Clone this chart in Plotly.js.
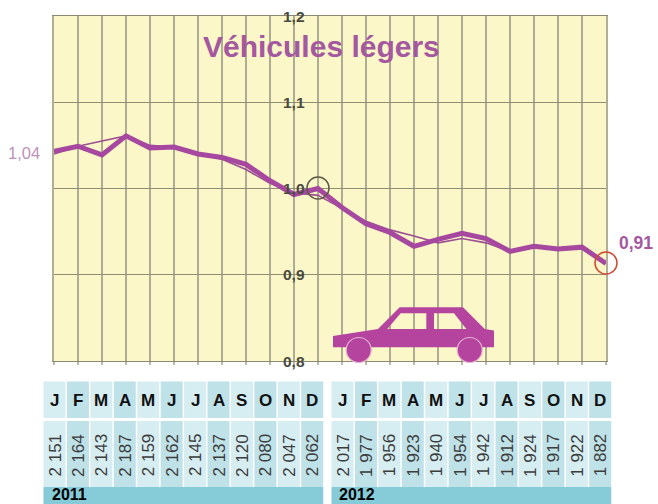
<!DOCTYPE html>
<html><head><meta charset="utf-8">
<script src="https://cdn.plot.ly/plotly-3.0.1.min.js"></script>
<style>html,body{margin:0;padding:0;background:#fff;overflow:hidden}</style>
</head><body><div id="chart" style="width:658px;height:504px"></div>
<script>
const monthsIdx = [0,1,2,3,4,5,6,7,8,9,10,11,12,13,14,15,16,17,18,19,20,21,22,23];
const indexValues = [1.043,1.049,1.039,1.061,1.047,1.048,1.040,1.036,1.028,1.009,0.993,1.000,0.978,0.959,0.949,0.933,0.941,0.948,0.942,0.927,0.933,0.930,0.932,0.913];
const trendValues = [1.040,1.049,1.055,1.061,1.050,1.048,1.040,1.034,1.022,1.006,0.995,0.992,0.977,0.962,0.952,0.945,0.937,0.942,0.937,0.927,0.933,0.930,0.930,0.913];
const monthLetters = ["J","F","M","A","M","J","J","A","S","O","N","D"];
const volumes2011 = ["2 151","2 164","2 143","2 187","2 159","2 162","2 145","2 137","2 120","2 080","2 047","2 062"];
const volumes2012 = ["2 017","1 977","1 956","1 923","1 940","1 954","1 942","1 912","1 924","1 917","1 922","1 882"];
const yTickValues = [1.2,1.1,1.0,0.9,0.8];
const yTickLabels = ["1,2","1,1","1,0","0,9","0,8"];
const titleText = "Véhicules légers";

const W=658,H=504;
const px=x=>x/W, py=y=>1-y/H;
const shapes=[],annotations=[];
const sans='"Liberation Sans", Arial, sans-serif';

function rect(x0,y0,x1,y1,color,layer){
  shapes.push({type:'rect',xref:'paper',yref:'paper',x0:px(x0),x1:px(x1),y0:py(y1),y1:py(y0),fillcolor:color,line:{width:0},layer:layer||'above'});
}
function label(x,y,text,size,color,bold,opts){
  annotations.push(Object.assign({xref:'paper',yref:'paper',x:px(x),y:py(y),text:bold?'<b>'+text+'</b>':text,showarrow:false,
    font:{family:sans,size:size,color:color},xanchor:'center',yanchor:'middle',borderpad:0},opts||{}));
}
rect(188,25,447,70,'#fbf7c8','between');
yTickValues.forEach((v,i)=>annotations.push({xref:'x',yref:'y',x:10,y:v,text:'<b>'+yTickLabels[i]+'</b>',showarrow:false,
  font:{family:sans,size:15.5,color:'#4a4a40'},xanchor:'center',yanchor:'middle'}));
label(321,46.5,titleText,30,'#a4589f',true);
label(24,153,'1,04',16.5,'#bd92bb',false);
label(618,243,'0,91',17.5,'#a4589f',true,{xanchor:'left'});

function ring(x,y,color){shapes.push({type:'circle',xref:'paper',yref:'paper',x0:px(x-11),x1:px(x+11),y0:py(y+11),y1:py(y-11),
  line:{color:color,width:1.5},fillcolor:'rgba(0,0,0,0)',layer:'above'});}
ring(318,188,'#5c5a48');
ring(606,263,'#cf4a33');

function poly(p){return p.map((q,i)=>(i?'L':'M')+px(q[0]).toFixed(5)+','+py(q[1]).toFixed(5)).join(' ')+' Z';}
const body=[[333,336],[378,329],[399.7,307.3],[463,307.3],[484.7,329],[494,330.5],[494,347.3],[333,347.3]];
const win1=[[387.3,329],[426.3,329],[426.3,313.3],[400.7,313.3]];
const win2=[[434,329],[466.3,329],[454,313.3],[434,313.3]];
shapes.push({type:'path',xref:'paper',yref:'paper',path:[poly(body),poly(win1),poly(win2)].join(' '),fillrule:'evenodd',fillcolor:'#b5449f',line:{width:0},layer:'above'});
[[358.7,350],[469.7,350]].forEach(c=>shapes.push({type:'circle',xref:'paper',yref:'paper',x0:px(c[0]-12.5),x1:px(c[0]+12.5),y0:py(c[1]+12.5),y1:py(c[1]-12.5),
  fillcolor:'#b5449f',line:{color:'#e6b3d4',width:1.2},layer:'above'}));

function table(x0,step,vals,year){
  vals.forEach((v,i)=>{
    const x=x0+i*step, c=i%2?'#bfe1e8':'#d6edf2';
    rect(x,381.5,x+22,418,c); rect(x,421,x+22,487,c);
    label(x+11,400,monthLetters[i],17,'#111',true);
    label(x+11,455,v,17,'#3c3c3c',false,{textangle:-90});
  });
  rect(x0,487,x0+step*12-1.4,504,'#86cbd8');
  label(x0+7,504,year,16,'#000',true,{xanchor:'left',yanchor:'bottom'});
}
table(43.5,23.43,volumes2011,'2011');
table(331.5,23.43,volumes2012,'2012');

const data=[
 {x:monthsIdx,y:trendValues,type:'scatter',mode:'lines',cliponaxis:false,line:{color:'#9c4f93',width:1.6},hoverinfo:'skip'},
 {x:monthsIdx,y:indexValues,type:'scatter',mode:'lines',cliponaxis:false,line:{color:'#a6489f',width:5},hoverinfo:'skip'}
];
const layout={width:W,height:H,margin:{l:0,r:0,t:0,b:0},paper_bgcolor:'#fff',plot_bgcolor:'#fbf7c8',showlegend:false,
 xaxis:{domain:[54/W,606/W],range:[0,23],tick0:0,dtick:1,showticklabels:false,ticks:'outside',ticklen:3,tickcolor:'#b9b8a2',tickwidth:1.5,
   showgrid:true,gridcolor:'#aead94',gridwidth:2.2,zeroline:false,showline:true,mirror:true,linecolor:'#8a8870',linewidth:1.4},
 yaxis:{domain:[1-361/H,1-16/H],range:[0.8,1.2],tick0:0.8,dtick:0.1,showticklabels:false,ticks:'',
   showgrid:true,gridcolor:'#8f8d72',gridwidth:1.3,zeroline:false,showline:true,mirror:true,linecolor:'#b0af96',linewidth:2},
 shapes:shapes,annotations:annotations};
Plotly.newPlot('chart',data,layout,{displayModeBar:false,staticPlot:true});
</script></body></html>
